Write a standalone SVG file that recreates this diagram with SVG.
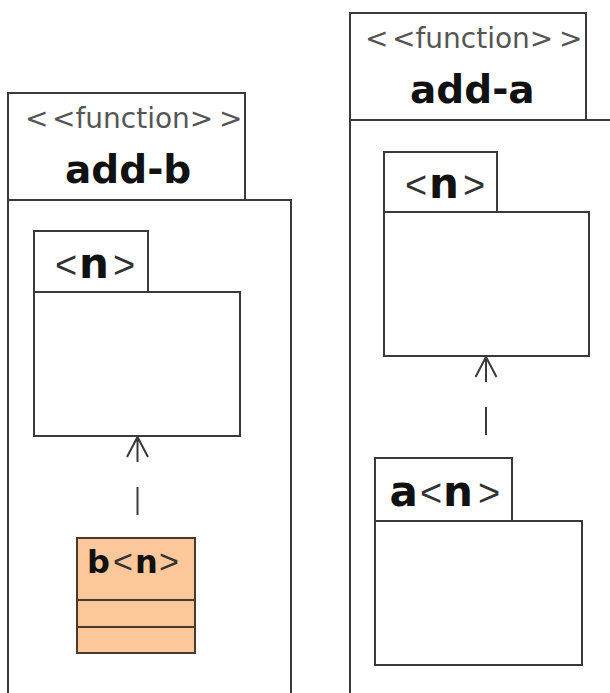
<svg xmlns="http://www.w3.org/2000/svg" width="610" height="693" viewBox="0 0 610 693">
<style>
.ln{fill:#fff;stroke:#3a3a3a;stroke-width:2}
.st{font-family:"DejaVu Sans",sans-serif;font-size:28px;fill:#555}
.nm{font-family:"DejaVu Sans",sans-serif;font-size:39px;font-weight:bold;fill:#111}
.br{font-family:"Liberation Sans",sans-serif;font-weight:normal;fill:#333}
.bn{font-family:"DejaVu Sans",sans-serif;font-weight:bold;fill:#111}
.cn{fill:none;stroke:#3a3a3a;stroke-width:2}
</style>
<rect width="610" height="693" fill="#fff"/>
<g id="add-b">
  <rect class="ln" x="8" y="93" width="237" height="107"/>
  <path class="ln" d="M8,700 V200 H291 V700"/>
  <text class="st" y="128"><tspan x="25">&lt;</tspan><tspan x="52">&lt;function&gt;</tspan><tspan x="219">&gt;</tspan></text>
  <text class="nm" x="65" y="183">add-b</text>
</g>
<g id="add-a">
  <rect class="ln" x="350" y="13" width="236" height="107"/>
  <path class="ln" d="M350,700 V120 H620"/>
  <text class="st" y="48"><tspan x="365">&lt;</tspan><tspan x="392">&lt;function&gt;</tspan><tspan x="559">&gt;</tspan></text>
  <text class="nm" x="410" y="103">add-a</text>
</g>
<g id="n-b">
  <rect class="ln" x="34" y="231" width="114" height="61"/>
  <rect class="ln" x="34" y="292" width="206" height="144"/>
  <text y="278"><tspan class="br" x="55" font-size="38">&lt;</tspan><tspan class="bn" x="79" font-size="42">n</tspan><tspan class="br" x="113" font-size="38">&gt;</tspan></text>
</g>
<g id="n-a">
  <rect class="ln" x="384" y="152" width="113" height="60"/>
  <rect class="ln" x="384" y="212" width="205" height="144"/>
  <text y="198"><tspan class="br" x="405" font-size="38">&lt;</tspan><tspan class="bn" x="429" font-size="42">n</tspan><tspan class="br" x="463" font-size="38">&gt;</tspan></text>
</g>
<g id="b-n">
  <rect x="77" y="538" width="118" height="115" fill="#fcc79a" stroke="#4a3a2c" stroke-width="2"/>
  <line x1="77" y1="600" x2="195" y2="600" stroke="#4a3a2c" stroke-width="2"/>
  <line x1="77" y1="627" x2="195" y2="627" stroke="#4a3a2c" stroke-width="2"/>
  <text y="573"><tspan class="bn" x="87" font-size="32">b</tspan><tspan class="br" x="113" font-size="34" fill="#222">&lt;</tspan><tspan class="bn" x="135" font-size="32">n</tspan><tspan class="br" x="159" font-size="34" fill="#222">&gt;</tspan></text>
</g>
<g id="a-n">
  <rect class="ln" x="375" y="458" width="137" height="63"/>
  <rect class="ln" x="375" y="521" width="207" height="144"/>
  <text y="506"><tspan class="bn" x="389.5" font-size="42">a</tspan><tspan class="br" x="420" font-size="38">&lt;</tspan><tspan class="bn" x="443" font-size="42">n</tspan><tspan class="br" x="478" font-size="38">&gt;</tspan></text>
</g>
<g id="connectors">
  <path class="cn" d="M137.5,437 V462 M137.5,487 V515 M127,457 L137.5,437 L148,457"/>
  <path class="cn" d="M486,357 V382 M486,407 V435 M475.5,377 L486,357 L496.5,377"/>
</g>
</svg>
